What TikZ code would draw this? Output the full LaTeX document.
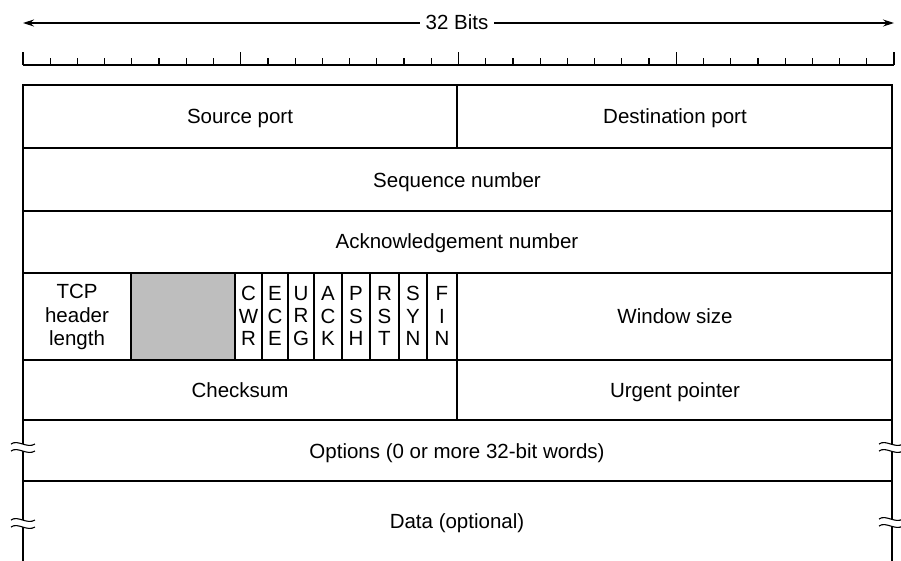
\documentclass[tikz,border=0pt]{standalone}
\usepackage{fontspec}
\setmainfont{Liberation Sans}
\usetikzlibrary{arrows.meta}
\definecolor{reserved}{HTML}{BEBEBE}
\begin{document}
\begin{tikzpicture}[x=1pt,y=-1pt,
  frame/.style={line width=1.2pt, line cap=rect},
  tick/.style={line width=1.2pt},
  txt/.style={font=\fontsize{20.5}{23.5}\selectfont, align=center, inner sep=0pt},
  lbl/.style={txt, text height=14.7pt, text depth=0pt},
  flag/.style={font=\fontsize{20.5}{22.5}\selectfont, align=center, inner sep=0pt},
  span/.style={line width=1.1pt, {Stealth[length=11pt,width=7pt]}-{Stealth[length=11pt,width=7pt]}},
  breakmark/.pic={
    \fill[white] (-12,-4) .. controls (-5,-9) and (4,1) .. (12,-4)
      -- (12,3) .. controls (4,8) and (-5,-2) .. (-12,3) -- cycle;
    \draw[line width=1.1pt] (-12,-4) .. controls (-5,-9) and (4,1) .. (12,-4);
    \draw[line width=1.1pt] (-12,3) .. controls (-5,-2) and (4,8) .. (12,3);
  }
]
\useasboundingbox (0,0) rectangle (901,560);

% width indicator
\coordinate (wl) at (23,23);
\coordinate (wr) at (894,23);
\draw[span] (wl) -- (wr);
\node[lbl, fill=white, inner xsep=6pt, inner ysep=4pt] (bits) at (457,22) {32 Bits};

% bit ruler: 32 bits, longer tick every byte
\draw[tick] (23,65) -- (894,65);
\foreach \i in {0,...,32}{
  \pgfmathsetmacro{\xx}{23+\i*27.21875}
  \pgfmathtruncatemacro{\major}{mod(\i,8)==0}
  \ifnum\major=1
    \draw[tick] (\xx,65) -- (\xx,52);
  \else
    \draw[tick] (\xx,65) -- (\xx,58);
  \fi
}

% header frame
\fill[reserved] (131,273) rectangle (235,360);
\draw[frame] (23,560) -- (23,85) -- (892,85) -- (892,560);
\foreach \yy in {148,211,273,360,420,481}
  \draw[frame] (23,\yy) -- (892,\yy);
\draw[frame] (457,85) -- (457,148);
\draw[frame] (457,273) -- (457,420);
\draw[frame] (131,273) -- (131,360);
\foreach \xx in {235,262,288,314,342,370,399,427}
  \draw[frame] (\xx,273) -- (\xx,360);

% field labels
\node[lbl] (src) at (240,116) {Source port};
\node[lbl] (dst) at (675,116) {Destination port};
\node[lbl] (seq) at (457,180) {Sequence number};
\node[lbl] (ack) at (457,241) {Acknowledgement number};
\node[txt] (hlen) at (77,317) {TCP\\header\\length};
\node[lbl] (win) at (675,316) {Window size};
\node[lbl] (csum) at (240,390) {Checksum};
\node[lbl] (urg) at (675,390) {Urgent pointer};
\node[lbl] (opt) at (457,451) {Options (0 or more 32-bit words)};
\node[lbl] (data) at (457,521) {Data (optional)};

% flag bits
\foreach \xa/\xb/\txt/\nm in {235/262/C\\W\\R/fcwr, 262/288/E\\C\\E/fece,
    288/314/U\\R\\G/furg, 314/342/A\\C\\K/fack, 342/370/P\\S\\H/fpsh,
    370/399/R\\S\\T/frst, 399/427/S\\Y\\N/fsyn, 427/457/F\\I\\N/ffin}
  \node[flag] (\nm) at ({(\xa+\xb)/2},316) {\txt};

% variable-length continuation marks
\pic at (23,448) {breakmark};
\pic at (23,524) {breakmark};
\pic at (891,448) {breakmark};
\pic at (891,523) {breakmark};
\end{tikzpicture}
\end{document}
